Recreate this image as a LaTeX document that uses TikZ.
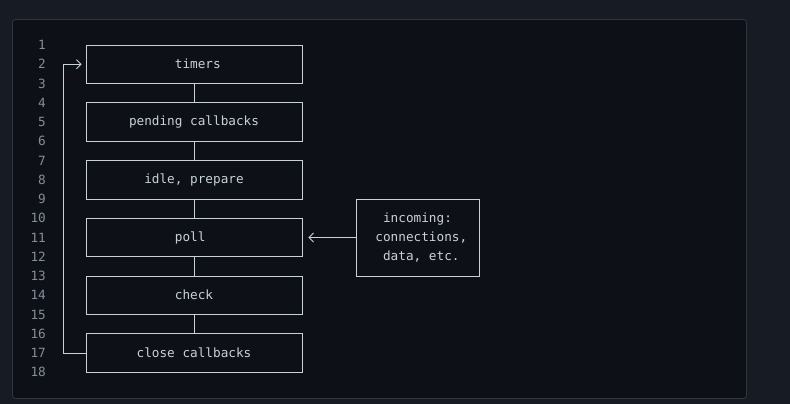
\documentclass[tikz,border=0pt]{standalone}
\usepackage{fontspec}
\setmonofont{DejaVu Sans Mono}
\usetikzlibrary{arrows.meta}
\definecolor{outerbg}{HTML}{171C24}
\definecolor{panelbg}{HTML}{0D1117}
\definecolor{panelborder}{HTML}{30363D}
\definecolor{codefg}{HTML}{C9D1D9}
\definecolor{lnumfg}{HTML}{848D97}
\tikzset{
  codefont/.style={font=\ttfamily\fontsize{12.7pt}{19.25pt}\selectfont},
  lnum/.style={codefont, text=lnumfg, anchor=east, inner sep=0pt},
  stagebox/.style={codefont, text=codefg, draw=codefg, line width=0.9pt,
    minimum width=216pt, minimum height=38.5pt, inner sep=0pt},
  inbox/.style={codefont, text=codefg, draw=codefg, line width=0.9pt,
    minimum width=123pt, minimum height=77pt, inner sep=0pt, align=left},
  conn/.style={draw=codefg, line width=0.9pt},
  barb/.style={-{Straight Barb[length=4.5pt,width=9pt,line width=0.9pt]}},
}
\begin{document}
\begin{tikzpicture}[x=1pt,y=-1pt]
\useasboundingbox (0,0) rectangle (790,404);
\fill[outerbg] (0,0) rectangle (790,404);
\draw[panelborder, fill=panelbg, line width=0.8pt, rounded corners=3pt] (12.5,19.5) rectangle (746.5,398.5);
\foreach \i in {1,...,18} \node[lnum] (n\i) at (46, {45+(\i-1)*19.25}) {\i};
% stages
\node[stagebox] (timers)  at (194, 64.25)  {\hspace*{7.65pt}timers};
\node[stagebox] (pending) at (194, 122)    {pending callbacks};
\node[stagebox] (idle)    at (194, 179.75) {idle, prepare};
\node[stagebox] (poll)    at (194, 237.5)  {poll\hspace*{7.65pt}};
\node[stagebox] (check)   at (194, 295.25) {check};
\node[stagebox] (close)   at (194, 353)    {close callbacks};
\node[inbox] (incoming) at (417.5, 237.5) {\hspace*{7.65pt}\ incoming:\\\hspace*{7.65pt}connections,\\\hspace*{7.65pt}\ data, etc.};
% connectors
\draw[conn] (timers.south) -- (pending.north);
\draw[conn] (pending.south) -- (idle.north);
\draw[conn] (idle.south) -- (poll.north);
\draw[conn] (poll.south) -- (check.north);
\draw[conn] (check.south) -- (close.north);
\coordinate (lt) at (63, 64.25);
\draw[conn, barb, shorten >=4pt] (close.west) -| (lt) -- (timers.west);
\draw[conn, barb, shorten >=6pt] (incoming.west) -- (poll.east);
\end{tikzpicture}
\end{document}
